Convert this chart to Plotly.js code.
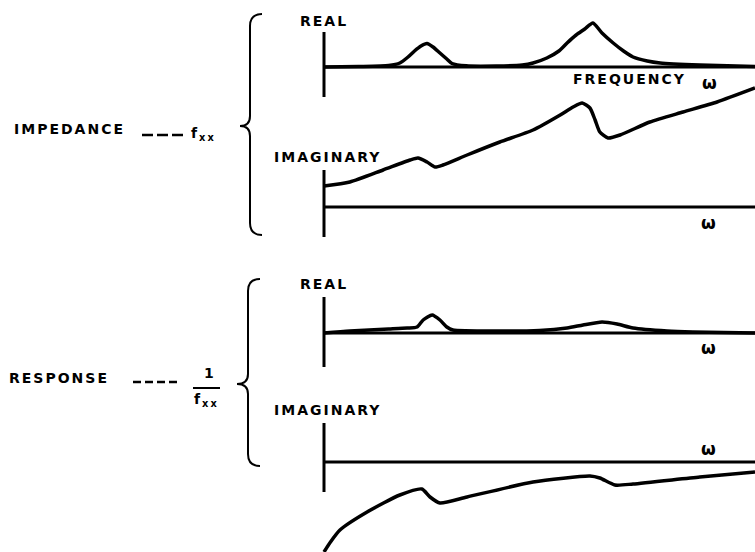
<!DOCTYPE html>
<html>
<head>
<meta charset="utf-8">
<script src="https://cdn.plot.ly/plotly-3.0.1.min.js"></script>
<style>
  html, body { margin: 0; padding: 0; background: #fff; }
  #chart { width: 755px; height: 552px; }
  .annotation-text { letter-spacing: 2px; }
</style>
</head>
<body>
<div id="chart"></div>
<script>
// ---- Data (omega in arbitrary units 0..10) ----
// Impedance, real part
var impRealW = [0, 0.8, 1.5, 1.76, 1.95, 2.1, 2.25, 2.39, 2.53, 2.69, 2.85, 2.97, 3.3, 4.0, 4.6, 4.85, 5.17, 5.45, 5.64, 5.85, 6.05, 6.24, 6.45, 6.71, 6.95, 7.17, 7.5, 7.8, 8.72, 10];
var impRealV = [0, 0.05, 0.15, 0.4, 1.0, 1.6, 2.1, 2.35, 2.0, 1.4, 0.8, 0.35, 0.12, 0.1, 0.2, 0.4, 0.9, 1.6, 2.4, 3.2, 3.8, 4.4, 3.4, 2.4, 1.6, 1.0, 0.6, 0.4, 0.2, 0.05];
// Impedance, imaginary part
var impImagW = [0, 0.6, 1.37, 2.0, 2.18, 2.39, 2.58, 2.76, 3.32, 4.08, 4.85, 5.48, 5.78, 5.99, 6.17, 6.29, 6.4, 6.59, 6.87, 7.56, 8.33, 9.12, 10];
var impImagV = [2.1, 2.5, 3.7, 4.7, 4.9, 4.5, 4.0, 4.2, 5.2, 6.5, 7.7, 9.2, 10.0, 10.4, 9.9, 8.7, 7.5, 6.9, 7.2, 8.5, 9.5, 10.5, 11.9];
// Response, real part
var resRealW = [0, 0.6, 1.5, 1.93, 2.16, 2.3, 2.51, 2.69, 2.85, 2.99, 4.08, 5.0, 5.64, 6.01, 6.45, 6.8, 7.17, 7.96, 8.56, 10];
var resRealV = [0, 0.2, 0.4, 0.5, 0.6, 1.3, 1.8, 1.3, 0.6, 0.3, 0.2, 0.25, 0.5, 0.8, 1.1, 0.9, 0.5, 0.2, 0.1, 0.0];
// Response, imaginary part
var resImagW = [0, 0.15, 0.37, 1.0, 1.76, 2.27, 2.46, 2.69, 3.32, 4.85, 6.17, 6.4, 6.75, 7.17, 8.72, 10];
var resImagV = [-9.0, -8.0, -6.8, -5.0, -3.3, -2.7, -3.5, -4.1, -3.5, -2.0, -1.4, -1.6, -2.3, -2.2, -1.5, -1.0];

// Labels
var sectionLabels = ['IMPEDANCE', 'RESPONSE'];
var partLabels = ['REAL', 'IMAGINARY', 'REAL', 'IMAGINARY'];
var freqLabel = 'FREQUENCY';
var omega = 'ω';

// ---- Layout helpers (pixel geometry of the page) ----
var W = 755, H = 552, UNIT = 10; // 10 px per data unit vertically
function px(x) { return x / W; }
function py(y) { return 1 - y / H; }

// panel frames: top/bottom of plotting area, baseline pixel, axis extent (data units)
var panels = [
  {top: 5,   bot: 100, base: 67,  axTop: 3.5, axBot: -3.0},
  {top: 80,  bot: 245, base: 207, axTop: 3.7, axBot: -3.0},
  {top: 270, bot: 372, base: 333, axTop: 3.6, axBot: -3.4},
  {top: 400, bot: 552, base: 462, axTop: 3.9, axBot: -3.0}
];
var seriesW = [impRealW, impImagW, resRealW, resImagW];
var seriesV = [impRealV, impImagV, resRealV, resImagV];

var xLeftPx = 318, xZeroPx = 324;
var xMax = 10;
var xMin = -(xZeroPx - xLeftPx) / ((W - xZeroPx) / xMax);

var traces = [];
var layout = {
  width: W, height: H,
  margin: {l: 0, r: 0, t: 0, b: 0},
  paper_bgcolor: '#ffffff',
  plot_bgcolor: 'rgba(0,0,0,0)',
  showlegend: false,
  font: {family: 'DejaVu Sans', color: '#000', size: 14},
  shapes: [],
  annotations: []
};

panels.forEach(function (p, i) {
  var n = i + 1;
  var xa = n === 1 ? 'xaxis' : 'xaxis' + n;
  var ya = n === 1 ? 'yaxis' : 'yaxis' + n;
  var xr = n === 1 ? 'x' : 'x' + n;
  var yr = n === 1 ? 'y' : 'y' + n;
  var hidden = {showgrid: false, zeroline: false, showline: false, showticklabels: false, ticks: '', fixedrange: true};
  layout[xa] = Object.assign({domain: [px(xLeftPx), 1], range: [xMin, xMax], anchor: yr}, hidden);
  layout[ya] = Object.assign({domain: [py(p.bot), py(p.top)], range: [(p.base - p.bot) / UNIT, (p.base - p.top) / UNIT], anchor: xr}, hidden);
  traces.push({
    x: seriesW[i], y: seriesV[i], xaxis: xr, yaxis: yr,
    type: 'scatter', mode: 'lines',
    line: {color: '#000', width: 3.5, shape: 'spline', smoothing: 0.6},
    hoverinfo: 'skip'
  });
  // vertical axis
  layout.shapes.push({type: 'line', xref: xr, yref: yr, x0: 0, x1: 0, y0: p.axBot, y1: p.axTop, line: {color: '#000', width: 3}});
  // baseline (frequency axis)
  layout.shapes.push({type: 'line', xref: xr, yref: yr, x0: 0, x1: xMax, y0: 0, y1: 0, line: {color: '#000', width: 3}});
});

// braces
function brace(top, tip, bot, vx, tipx, endx) {
  function P(x, y) { return px(x).toFixed(5) + ',' + py(y).toFixed(5); }
  return 'M' + P(endx, top) +
    ' Q' + P(vx, top) + ' ' + P(vx, top + 12) +
    ' L' + P(vx, tip - 10) +
    ' Q' + P(vx, tip) + ' ' + P(tipx, tip) +
    ' Q' + P(vx, tip) + ' ' + P(vx, tip + 10) +
    ' L' + P(vx, bot - 12) +
    ' Q' + P(vx, bot) + ' ' + P(endx, bot);
}
layout.shapes.push({type: 'path', xref: 'paper', yref: 'paper', path: brace(14, 126, 235, 250, 240, 262), line: {color: '#000', width: 2}});
layout.shapes.push({type: 'path', xref: 'paper', yref: 'paper', path: brace(279, 384, 466, 248, 237, 260), line: {color: '#000', width: 2}});

// leader dashes and fraction bar
layout.shapes.push({type: 'line', xref: 'paper', yref: 'paper', x0: px(142), x1: px(183), y0: py(135), y1: py(135), line: {color: '#000', width: 2.5, dash: '11px,4px'}});
layout.shapes.push({type: 'line', xref: 'paper', yref: 'paper', x0: px(133), x1: px(177), y0: py(382), y1: py(382), line: {color: '#000', width: 2.5, dash: '8px,4px'}});
layout.shapes.push({type: 'line', xref: 'paper', yref: 'paper', x0: px(193), x1: px(220), y0: py(388), y1: py(388), line: {color: '#000', width: 2}});

function ann(text, x, y, size, anchor) {
  layout.annotations.push({
    text: text, x: px(x), y: py(y), xref: 'paper', yref: 'paper',
    xanchor: anchor || 'left', yanchor: 'middle', align: 'left', showarrow: false,
    font: {family: 'DejaVu Sans', size: size || 14, color: '#000', weight: 'bold'}
  });
}
ann(sectionLabels[0], 12, 129);
ann('f<sub>xx</sub>', 189, 134, 14);
ann(sectionLabels[1], 7, 378);
ann('1', 202, 373, 14);
ann('f<sub>xx</sub>', 192, 400, 14);
ann(partLabels[0], 298, 21);
ann(partLabels[1], 272, 157);
ann(partLabels[2], 298, 284);
ann(partLabels[3], 272, 410);
ann(freqLabel, 571, 79);
ann(omega, 700, 83, 17);
ann(omega, 699, 223, 17);
ann(omega, 699, 348, 17);
ann(omega, 699, 449, 17);

Plotly.newPlot('chart', traces, layout, {staticPlot: true, displayModeBar: false});
</script>
</body>
</html>
